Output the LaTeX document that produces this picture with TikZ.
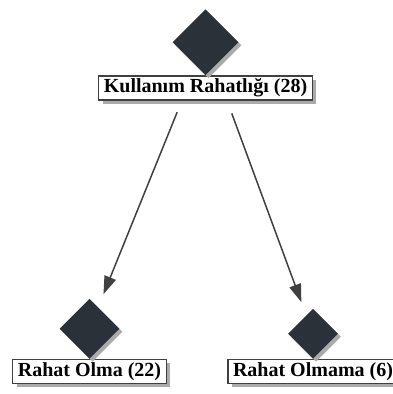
\documentclass[tikz,border=0pt]{standalone}
\usepackage{fontspec}
\setmainfont{Liberation Serif}
\usetikzlibrary{arrows.meta,positioning,shapes.geometric,shadows}
\usepackage{xcolor}
\definecolor{NoeudFonce}{HTML}{2b3139}
\definecolor{FlecheGris}{HTML}{404040}
\definecolor{OmbreGris}{HTML}{aaaaaa}
\begin{document}
\begin{tikzpicture}[%
    x=1pt, y=1pt,%
    noeud/.style={shape=diamond, aspect=1, inner sep=0pt, fill=NoeudFonce,%
      drop shadow={shadow xshift=3pt, shadow yshift=-3pt, fill=OmbreGris, opacity=1}},%
    etiquette/.style={shape=rectangle, draw=FlecheGris, line width=1.2pt, fill=white,%
      inner xsep=5pt, inner ysep=2pt, text height=15pt, text depth=5pt,%
      font=\bfseries\fontsize{20}{24}\selectfont,%
      drop shadow={shadow xshift=4pt, shadow yshift=-4pt, fill=OmbreGris, opacity=1}},%
    fleche/.style={draw=FlecheGris, line width=1.5pt,%
      -{Triangle[length=18pt, width=12pt]}, shorten >=14pt, shorten <=50pt}%
  ]
  \useasboundingbox (0,0) rectangle (393,394);%

  %
  % Racine
  %
  \node[etiquette] (racine) at (205.5,306) {Kullanım Rahatlığı (28)};%
  \node[noeud, minimum size=66pt, above=0pt of racine] (racine noeud) {};%

  %
  % Feuilles
  %
  \node[etiquette] (olma) at (89.5,22.5) {Rahat Olma (22)};%
  \node[noeud, minimum size=60pt, above=0pt of olma] (olma noeud) {};%
  \node[etiquette] (olmama) at (313,22.5) {Rahat Olmama (6)};%
  \node[noeud, minimum size=50pt, above=0pt of olmama] (olmama noeud) {};%

  % Branches
  \foreach \feuille in {olma,olmama} {%
      \draw[fleche] (racine noeud) -- (\feuille\space noeud);%
    }%
\end{tikzpicture}
\end{document}
